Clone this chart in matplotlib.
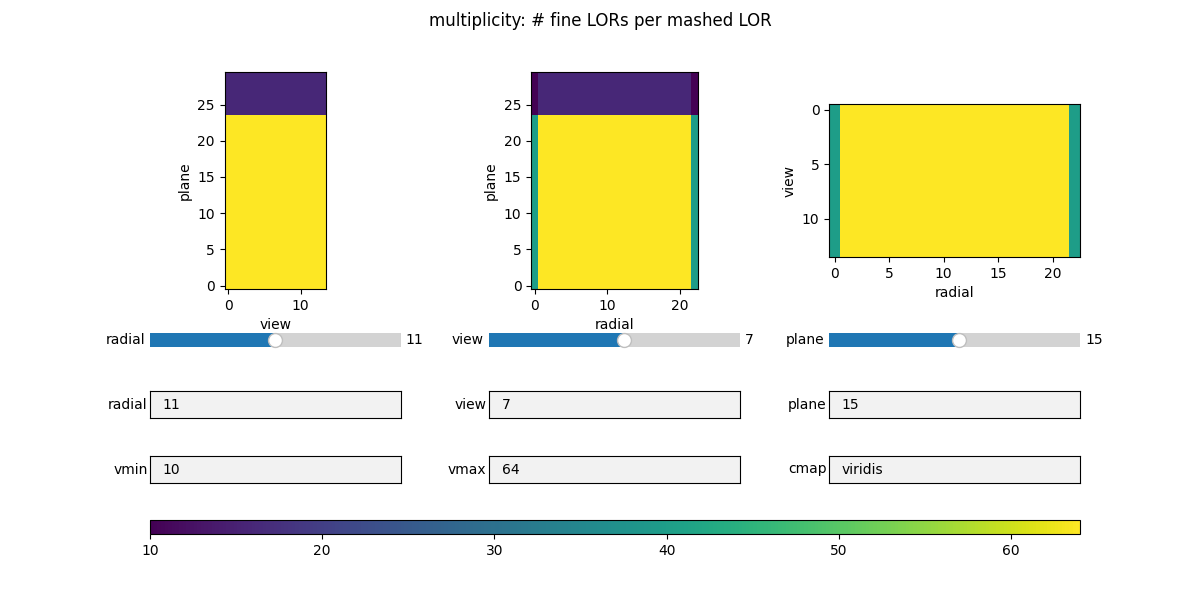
import numpy as np
import matplotlib
matplotlib.use('Agg')
import matplotlib.pyplot as plt
from matplotlib.widgets import Slider, TextBox

# multiplicity values
low_row = [40] + [64] * 21 + [40]     # radial profile, planes 0..23
high_row = [10] + [16] * 21 + [10]    # radial profile, planes 24..29
n_low_planes = 24
n_high_planes = 6
n_views = 14

radial_idx = 11
view_idx = 7
plane_idx = 15
vmin = 10
vmax = 64
cmap = 'viridis'

# slices through the (plane, view, radial) multiplicity array
img_radial = np.array([[low_row[radial_idx]] * n_views] * n_low_planes
                      + [[high_row[radial_idx]] * n_views] * n_high_planes)
img_view = np.array([low_row] * n_low_planes + [high_row] * n_high_planes)
img_plane = np.array([low_row] * n_views)


def main():
    fig = plt.figure(figsize=(12, 6), dpi=100)
    fig.suptitle('multiplicity: # fine LORs per mashed LOR')

    col_x = [0.125, 0.4075, 0.691]
    col_w = 0.209

    ax0 = fig.add_axes([col_x[0], 0.518, col_w, 0.362])
    ax1 = fig.add_axes([col_x[1], 0.518, col_w, 0.362])
    ax2 = fig.add_axes([col_x[2], 0.518, col_w, 0.362])

    im = ax0.imshow(img_radial, origin='lower', cmap=cmap, vmin=vmin, vmax=vmax)
    ax0.set_xlabel('view')
    ax0.set_ylabel('plane')

    ax1.imshow(img_view, origin='lower', cmap=cmap, vmin=vmin, vmax=vmax)
    ax1.set_xlabel('radial')
    ax1.set_ylabel('plane')

    ax2.imshow(img_plane, origin='upper', cmap=cmap, vmin=vmin, vmax=vmax)
    ax2.set_xlabel('radial')
    ax2.set_ylabel('view')

    # sliders
    sliders = []
    slider_spec = [('radial', len(low_row) - 1, radial_idx),
                   ('view', n_views - 1, view_idx),
                   ('plane', n_low_planes + n_high_planes - 1, plane_idx)]
    for x, (label, vmax_s, val) in zip(col_x, slider_spec):
        sax = fig.add_axes([x, 0.41, col_w, 0.047])
        s = Slider(sax, label, 0, vmax_s, valinit=val, valstep=1, valfmt='%d')
        sliders.append(s)

    # text boxes
    boxes = []
    box_spec = [('radial', str(radial_idx)), ('view', str(view_idx)), ('plane', str(plane_idx))]
    for x, (label, txt) in zip(col_x, box_spec):
        tax = fig.add_axes([x, 0.3033, col_w, 0.045])
        boxes.append(TextBox(tax, label, initial=txt))

    box_spec2 = [('vmin', str(vmin)), ('vmax', str(vmax)), ('cmap', cmap)]
    for x, (label, txt) in zip(col_x, box_spec2):
        tax = fig.add_axes([x, 0.195, col_w, 0.045])
        boxes.append(TextBox(tax, label, initial=txt))

    # colorbar
    cax = fig.add_axes([0.125, 0.11, 0.775, 0.023])
    fig.colorbar(im, cax=cax, orientation='horizontal')

    fig.savefig('out.png', dpi=100)


if __name__ == '__main__':
    main()
